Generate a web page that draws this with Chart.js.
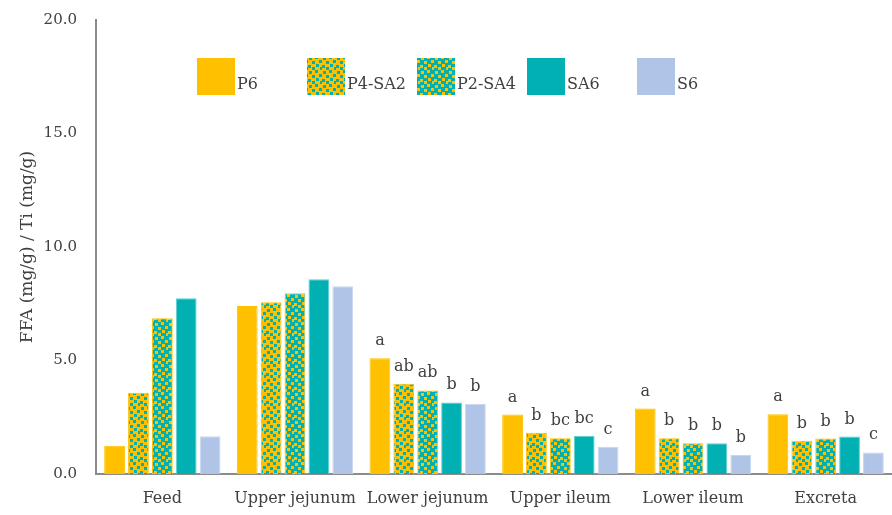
<!DOCTYPE html>
<html>
<head>
<meta charset="utf-8">
<script src="https://cdn.jsdelivr.net/npm/chart.js@4.4.1/dist/chart.umd.min.js"></script>
<style>
  html, body { margin: 0; padding: 0; background: #fff; }
  #wrap { width: 892px; height: 515px; position: relative; }
</style>
</head>
<body>
<div id="wrap"><canvas id="chartFFA"></canvas></div>
<script>
// datos
const segmentos = ["Feed", "Upper jejunum", "Lower jejunum", "Upper ileum", "Lower ileum", "Excreta"];
const tratamientos = ["P6", "P4-SA2", "P2-SA4", "SA6", "S6"];

const valoresP6 = [1.25, 7.40, 5.10, 2.62, 2.88, 2.63];
const valoresP4SA2 = [3.58, 7.57, 3.98, 1.82, 1.58, 1.47];
const valoresP2SA4 = [6.86, 7.96, 3.68, 1.57, 1.35, 1.56];
const valoresSA6 = [7.74, 8.58, 3.15, 1.68, 1.36, 1.65];
const valoresS6 = [1.66, 8.27, 3.08, 1.20, 0.84, 0.95];

// letras de significancia (vacio = sin letra)
const letrasP6 = ["", "", "a", "a", "a", "a"];
const letrasP4SA2 = ["", "", "ab", "b", "b", "b"];
const letrasP2SA4 = ["", "", "ab", "bc", "b", "b"];
const letrasSA6 = ["", "", "b", "bc", "b", "b"];
const letrasS6 = ["", "", "b", "c", "b", "c"];

const amarillo = "#FFC000";
const turquesa = "#00B0B2";
const celeste = "#B0C4E8";
const gris = "#404040";
const fuente = "'DejaVu Serif', serif";

function crearPatron(fondo, punto) {
    const tile = document.createElement("canvas");
    tile.width = 14;
    tile.height = 14;
    const c = tile.getContext("2d");
    c.fillStyle = fondo;
    c.fillRect(0, 0, 14, 14);
    c.fillStyle = punto;
    const puntos = [[1, 1], [7, 0], [11, 4], [4, 5], [0, 9], [8, 8], [12, 11], [4, 11]];
    puntos.forEach(p => c.fillRect(p[0], p[1], 3, 3));
    return document.createElement("canvas").getContext("2d").createPattern(tile, "repeat");
}

const patronP4SA2 = crearPatron(amarillo, turquesa);
const patronP2SA4 = crearPatron(turquesa, amarillo);

const letras = [letrasP6, letrasP4SA2, letrasP2SA4, letrasSA6, letrasS6];

const pluginLetras = {
    id: "letras",
    afterDatasetsDraw(chart) {
        const ctx = chart.ctx;
        ctx.save();
        ctx.font = "16px " + fuente;
        ctx.fillStyle = gris;
        ctx.textAlign = "center";
        ctx.textBaseline = "alphabetic";
        chart.data.datasets.forEach((ds, i) => {
            const meta = chart.getDatasetMeta(i);
            meta.data.forEach((bar, j) => {
                const txt = letras[i][j];
                if (txt) ctx.fillText(txt, bar.x, bar.y - 13);
            });
        });
        ctx.restore();
    }
};

const pluginLeyenda = {
    id: "leyendaFija",
    afterDraw(chart) {
        const ctx = chart.ctx;
        const left = chart.chartArea.left;
        ctx.save();
        ctx.font = "16px " + fuente;
        ctx.textBaseline = "alphabetic";
        ctx.textAlign = "left";
        chart.data.datasets.forEach((ds, i) => {
            const x = left + 101 + i * 110;
            const y = 58;
            ctx.fillStyle = ds.backgroundColor;
            ctx.fillRect(x, y, 38, 37);
            ctx.fillStyle = gris;
            ctx.fillText(ds.label, x + 40, y + 31);
        });
        ctx.restore();
    }
};

function serie(label, data, fondo, borde) {
    return {
        label: label,
        data: data,
        backgroundColor: fondo,
        borderColor: borde,
        borderWidth: 1,
        borderSkipped: "bottom",
        categoryPercentage: 0.9,
        barPercentage: 0.87
    };
}

new Chart(document.getElementById("chartFFA"), {
    type: "bar",
    data: {
        labels: segmentos,
        datasets: [
            serie(tratamientos[0], valoresP6, amarillo, amarillo),
            serie(tratamientos[1], valoresP4SA2, patronP4SA2, amarillo),
            serie(tratamientos[2], valoresP2SA4, patronP2SA4, amarillo),
            serie(tratamientos[3], valoresSA6, turquesa, "#5ED0D2"),
            serie(tratamientos[4], valoresS6, celeste, "#C8D6F0")
        ]
    },
    options: {
        responsive: true,
        maintainAspectRatio: false,
        animation: false,
        layout: { padding: { top: 17, right: 0, left: 0, bottom: 0 } },
        plugins: {
            legend: { display: false },
            tooltip: { enabled: false }
        },
        scales: {
            x: {
                grid: { display: false },
                border: { display: true, color: "#8C8C8C", width: 2 },
                ticks: {
                    color: gris,
                    font: { family: fuente, size: 16 },
                    padding: 7,
                    maxRotation: 0
                },
                afterFit(scale) { scale.height = 41; }
            },
            y: {
                min: 0,
                max: 20,
                grid: { display: false },
                border: { display: true, color: "#8C8C8C", width: 2 },
                ticks: {
                    stepSize: 5,
                    color: gris,
                    font: { family: fuente, size: 15 },
                    padding: 11,
                    callback: v => v.toFixed(1)
                },
                title: {
                    display: true,
                    text: "FFA (mg/g) / Ti (mg/g)",
                    color: gris,
                    font: { family: fuente, size: 17 },
                    padding: { top: 17, bottom: 0 }
                },
                afterFit(scale) { scale.width = 96; }
            }
        }
    },
    plugins: [pluginLetras, pluginLeyenda]
});
</script>
</body>
</html>
